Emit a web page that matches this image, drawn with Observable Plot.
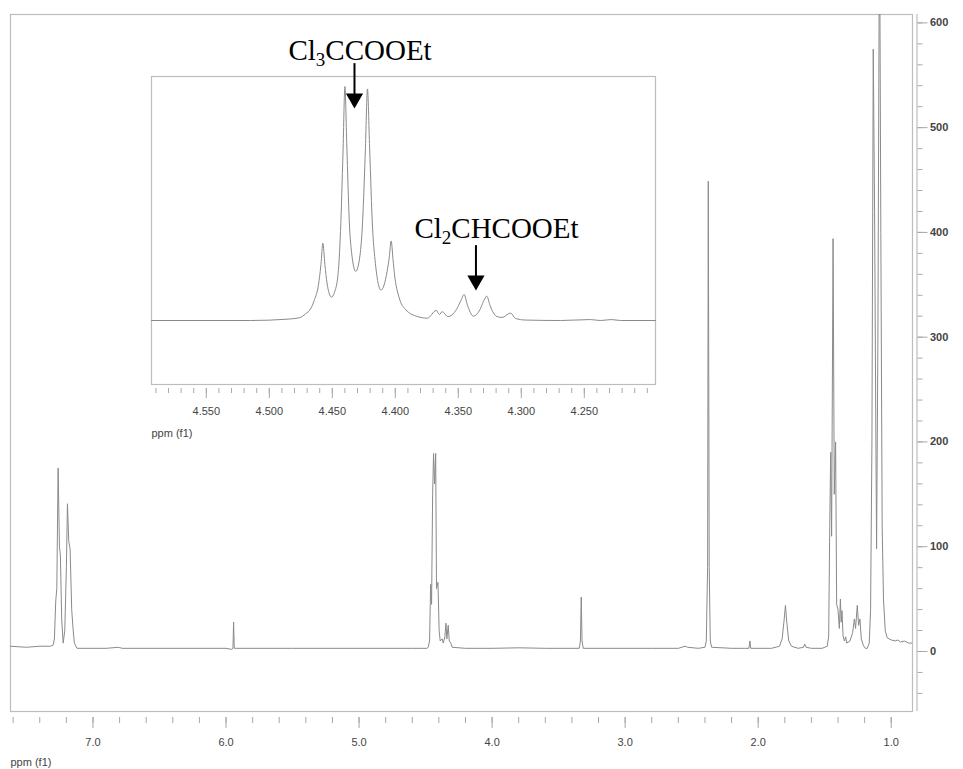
<!DOCTYPE html>
<html>
<head>
<meta charset="utf-8">
<script src="https://cdn.jsdelivr.net/npm/d3@7"></script>
<script src="https://cdn.jsdelivr.net/npm/@observablehq/plot@0.6"></script>
<style>
  html, body { margin: 0; padding: 0; background: #fff; }
  #wrap { position: relative; width: 963px; height: 769px; overflow: hidden; }
  #wrap svg { position: absolute; left: 0; top: 0; }
</style>
</head>
<body>
<div id="wrap"></div>
<script>
// ---------- Main spectrum (ppm, intensity) ----------
const mainPpm = [
  7.62, 7.50, 7.40, 7.32, 7.30, 7.29, 7.28, 7.272, 7.262, 7.252, 7.245, 7.235, 7.224, 7.212, 7.200, 7.192, 7.182, 7.172, 7.160, 7.150, 7.140, 7.12,
  7.00, 6.90, 6.81, 6.78, 6.60, 6.30, 6.00, 5.96, 5.948, 5.943, 5.938, 5.92, 5.50, 5.00, 4.60, 4.49,
  4.48, 4.47, 4.462, 4.455, 4.447, 4.440, 4.432, 4.424, 4.418, 4.407, 4.398, 4.39, 4.375, 4.367, 4.355, 4.347, 4.340, 4.330, 4.322, 4.31, 4.30,
  4.20, 4.00, 3.80, 3.60, 3.40, 3.345, 3.336, 3.330, 3.324, 3.315, 3.00, 2.80, 2.60, 2.55, 2.53, 2.45,
  2.40, 2.39, 2.38, 2.375, 2.368, 2.36, 2.35, 2.20, 2.10, 2.07, 2.062, 2.056, 2.00, 1.90,
  1.84, 1.82, 1.805, 1.795, 1.785, 1.77, 1.75, 1.70, 1.66, 1.65, 1.64, 1.60, 1.52,
  1.48, 1.47, 1.462, 1.455, 1.448, 1.437, 1.428, 1.418, 1.410, 1.400, 1.390, 1.382, 1.376, 1.370, 1.362, 1.352, 1.342, 1.335,
  1.31, 1.29, 1.277, 1.268, 1.255, 1.245, 1.235, 1.225, 1.21, 1.195, 1.18,
  1.165, 1.155, 1.145, 1.135, 1.125, 1.115, 1.110, 1.100, 1.088, 1.078, 1.068, 1.058, 1.045, 1.03,
  1.00, 0.97, 0.95, 0.93, 0.90, 0.87, 0.84
];
const mainInt = [
  5, 4, 5, 5, 6, 12, 48, 60, 175, 100, 92, 30, 8, 20, 80, 141, 105, 98, 40, 22, 8, 3,
  3, 3, 4, 3, 3, 3, 3, 2, 3, 28, 3, 3, 3, 3, 3, 3,
  4, 10, 64, 45, 150, 189, 160, 189, 60, 66, 20, 10, 12, 8, 14, 27, 12, 25, 10, 8, 4,
  3, 3, 3.5, 3, 3, 3, 10, 52, 10, 3, 3, 3, 3, 5, 4, 3,
  4, 10, 80, 449, 80, 10, 4, 3, 3, 3, 10, 3, 3, 3,
  5, 12, 30, 44, 28, 10, 5, 3, 4, 7, 4, 3, 3,
  5, 15, 120, 190, 110, 394, 150, 200, 45, 40, 22, 50, 28, 39, 15, 10, 14, 8,
  10, 18, 31, 22, 44, 25, 31, 12, 6, 3, 3,
  8, 40, 200, 575, 420, 200, 98, 300, 720, 400, 120, 50, 20, 13,
  11, 10, 11, 9, 10, 8, 8
];

// ---------- Inset spectrum (ppm, relative intensity) ----------
const insetPpm = [
  4.5935, 4.5149, 4.4851, 4.4760, 4.4713, 4.4668, 4.4641, 4.4614, 4.4590, 4.4575, 4.4559, 4.4542, 4.4507,
  4.4483, 4.4454, 4.4435, 4.4415, 4.4400, 4.4385, 4.4365, 4.4347, 4.4314,
  4.4280, 4.4260, 4.4237, 4.4221, 4.4204, 4.4181, 4.4161, 4.4114,
  4.4065, 4.4048, 4.4033, 4.4018, 4.4007, 4.3971, 4.3918, 4.3824, 4.3745,
  4.3676, 4.3649, 4.3628, 4.3583, 4.3515, 4.3480, 4.3454, 4.3427, 4.3381,
  4.3328, 4.3300, 4.3274, 4.3247, 4.3194, 4.3153, 4.3086, 4.3046, 4.2967,
  4.2689, 4.2451, 4.2372, 4.2284, 4.2213, 4.1935
];
const insetInt = [
  0, 0, 0.6, 1.2, 2.8, 5.4, 9, 14, 24, 33, 24, 16, 10,
  12, 20, 38, 72, 100, 75, 42, 29, 21,
  28, 42, 74, 99, 74, 40, 26, 13,
  21, 27, 34, 26, 20, 10, 4.7, 1.7, 1.0,
  4.3, 2.6, 3.8, 1.7, 4.7, 8.5, 11.1, 6.5, 1.9,
  4.7, 8.2, 10.4, 6.2, 1.7, 1.3, 3.2, 0.9, 0.2,
  0, 0.4, 0, 0.4, 0, 0
];

// ---------- Axes / ticks / labels ----------
const mainXMajor = [7, 6, 5, 4, 3, 2, 1];
const mainXMinor = d3.range(1.0, 7.61, 0.2).map(v => +v.toFixed(1));
const mainYMajor = [0, 100, 200, 300, 400, 500, 600];
const mainYMinor = d3.range(-40, 601, 20);
const insetXMajor = [4.55, 4.50, 4.45, 4.40, 4.35, 4.30, 4.25];
const insetXMinor = d3.range(4.20, 4.595, 0.01).map(v => +v.toFixed(2));
const axisTitle = ["ppm (f1)"];

// ---------- Annotations (inset) ----------
const annoLabels = ["Cl3CCOOEt", "Cl2CHCOOEt"];
const annoLabelPpm = [4.4280, 4.3197];
const annoLabelVal = [115.4, 39.3];
const arrowPpm = [4.4324, 4.3360];
const arrowTop = [109.8, 32.0];
const arrowHead = [94.9, 17.1];

const mainData = mainPpm.map((p, i) => ({ppm: p, v: mainInt[i]}));
const insetData = insetPpm.map((p, i) => ({ppm: p, v: insetInt[i]}));
const annoData = annoLabels.map((t, i) => ({
  text: t, lx: annoLabelPpm[i], ly: annoLabelVal[i], ax: arrowPpm[i], a1: arrowTop[i], a2: arrowHead[i]
}));

const font = "'Liberation Sans', Arial, sans-serif";
const lineColor = "#8a8a8a";
const frameColor = "#bdbdbd";
const tickColor = "#a8a8a8";
const textColor = "#444";

const main = Plot.plot({
  width: 963, height: 769,
  marginLeft: 10, marginRight: 51, marginTop: 14, marginBottom: 58,
  style: {fontFamily: font, fontSize: "11px", background: "transparent", color: textColor, overflow: "visible"},
  x: {domain: [7.62, 0.84]},
  y: {domain: [-57.3, 608]},
  marks: [
    Plot.frame({stroke: frameColor, strokeWidth: 1.2}),
    Plot.ruleX([0.84], {dx: 4.5, stroke: frameColor, strokeWidth: 1.2}),
    Plot.axisX(mainXMinor, {anchor: "bottom", tickSize: 6, dy: 6, tickFormat: () => "", stroke: tickColor, label: null}),
    Plot.axisX(mainXMajor, {anchor: "bottom", tickSize: 11, dy: 6, tickPadding: 10, tickFormat: d => d.toFixed(1), stroke: tickColor, fill: textColor, label: null}),
    Plot.axisY(mainYMinor, {anchor: "right", tickSize: 5, dx: 4.5, tickFormat: () => "", stroke: tickColor, label: null}),
    Plot.axisY(mainYMajor, {anchor: "right", tickSize: 10, dx: 4.5, tickPadding: 3, tickFormat: d => String(d), stroke: tickColor, fill: textColor, label: null, fontWeight: "bold"}),
    Plot.line(mainData, {x: "ppm", y: "v", stroke: lineColor, strokeWidth: 1, clip: true}),
    Plot.text(axisTitle, {text: d => d, frameAnchor: "bottom-left", dy: 51, textAnchor: "start", lineAnchor: "middle", fill: textColor})
  ]
});

const inset = Plot.plot({
  width: 963, height: 769,
  marginLeft: 151, marginRight: 308, marginTop: 76, marginBottom: 385,
  style: {fontFamily: font, fontSize: "11px", background: "transparent", color: textColor, overflow: "visible"},
  x: {domain: [4.5935, 4.1935]},
  y: {domain: [-27.35, 104.3], axis: null},
  marks: [
    Plot.frame({stroke: frameColor, strokeWidth: 1.2}),
    Plot.axisX(insetXMinor, {anchor: "bottom", tickSize: 5, dy: 4, tickFormat: () => "", stroke: tickColor, label: null}),
    Plot.axisX(insetXMajor, {anchor: "bottom", tickSize: 10, dy: 4, tickPadding: 9, tickFormat: d => d.toFixed(3), stroke: tickColor, fill: textColor, label: null}),
    Plot.line(insetData, {x: "ppm", y: "v", stroke: lineColor, strokeWidth: 1, curve: "monotone-x"}),
    Plot.ruleX(annoData, {x: "ax", y1: "a1", y2: "a2", stroke: "#000", strokeWidth: 2}),
    Plot.dot(annoData, {x: "ax", y: "a2", symbol: "triangle", rotate: 180, r: 6.4, fill: "#000", stroke: "none"}),
    Plot.text(annoData, {x: "lx", y: "ly", text: "text", fontFamily: "'Liberation Serif', 'Times New Roman', serif", fontSize: 29, fill: "#000", textAnchor: "middle", lineAnchor: "middle"}),
    Plot.text(axisTitle, {text: d => d, frameAnchor: "bottom-left", dy: 49, textAnchor: "start", lineAnchor: "middle", fill: textColor})
  ]
});

// subscripts in chemical formulas
inset.querySelectorAll("text").forEach(t => {
  const s = t.textContent;
  const m = s.match(/^(Cl)(\d)(.*)$/);
  if (!m) return;
  while (t.firstChild) t.removeChild(t.firstChild);
  const ns = "http://www.w3.org/2000/svg";
  const a = document.createElementNS(ns, "tspan"); a.textContent = m[1]; t.appendChild(a);
  const b = document.createElementNS(ns, "tspan"); b.textContent = m[2];
  b.setAttribute("font-size", "19"); b.setAttribute("dy", "6"); t.appendChild(b);
  const c = document.createElementNS(ns, "tspan"); c.textContent = m[3];
  c.setAttribute("dy", "-6"); t.appendChild(c);
});

const wrap = document.getElementById("wrap");
wrap.appendChild(main);
wrap.appendChild(inset);
</script>
</body>
</html>
